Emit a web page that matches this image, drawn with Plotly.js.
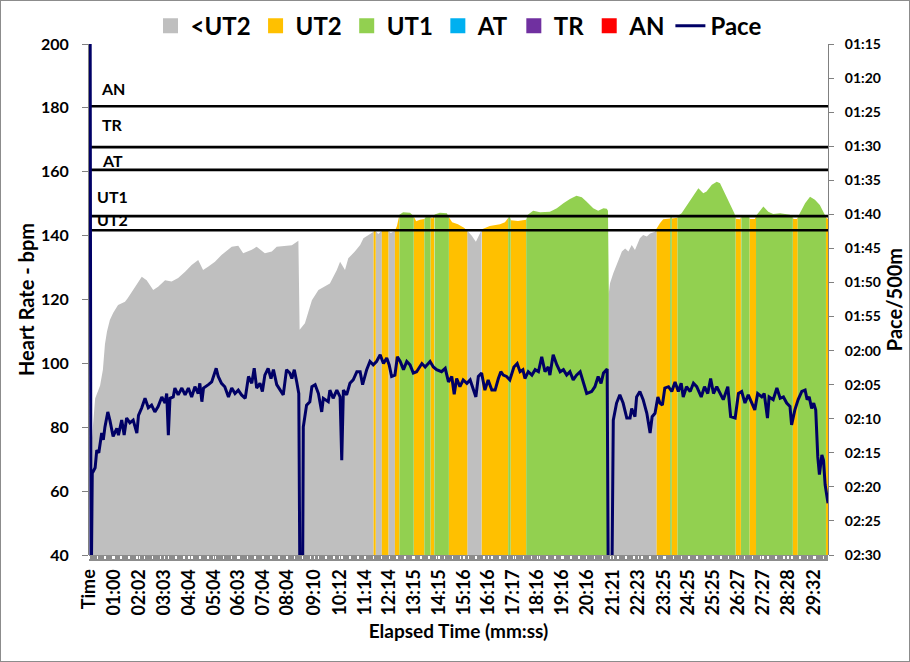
<!DOCTYPE html>
<html><head><meta charset="utf-8">
<script src="https://cdn.plot.ly/plotly-3.0.1.min.js"></script>
<style>
html,body{margin:0;padding:0;background:#fff;}
#frame{width:910px;height:662px;box-sizing:border-box;border:1px solid #8c8c8c;}
#chart{width:908px;height:660px;}
</style></head><body><div id="frame"><div id="chart"></div></div>
<script>
// ---- categories / tick labels ----
const xTickLabels = ['Time','01:00','02:02','03:03','04:04','05:04','06:03','07:04','08:04','09:10','10:12','11:14','12:14','13:15','14:15','15:16','16:16','17:17','18:16','19:16','20:16','21:21','22:23','23:25','24:25','25:25','26:27','27:27','28:28','29:32'];
const xTickSeconds = [0,60,122,183,244,304,363,424,484,550,612,674,734,795,855,916,976,1037,1096,1156,1216,1281,1343,1405,1465,1525,1587,1647,1708,1772];
const paceTickSeconds = [75,80,85,90,95,100,105,110,115,120,125,130,135,140,145,150];
const paceTickLabels = ['01:15','01:20','01:25','01:30','01:35','01:40','01:45','01:50','01:55','02:00','02:05','02:10','02:15','02:20','02:25','02:30'];

// ---- zones ----
const zoneNames = ['<UT2','UT2','UT1','AT','TR','AN'];
const zoneColors = ['#BFBFBF','#FFC000','#92D050','#00B0F0','#7030A0','#FF0000'];
const zoneStart = [0,695,700,715,731,747,758,793,819,834,843,879,924,959,1024,1030,1068,1270,1387,1420,1424,1438,1580,1593,1614,1630,1720,1732,1801];
const zoneOf = ['<UT2','UT2','<UT2','UT2','<UT2','UT2','UT1','UT2','UT1','UT2','UT1','UT2','<UT2','UT2','UT1','UT2','UT1','<UT2','UT2','UT1','UT2','UT1','UT2','UT1','UT2','UT1','UT2','UT1','UT2'];

// ---- thresholds (bpm) ----
const thresholdNames = ['AN','TR','AT','UT1','UT2'];
const thresholdBpm = [180.5,167.7,160.6,146.1,141.7];

// ---- heart rate (elapsed seconds, bpm) ----
const hrTime = [0,3,6,10,14,26,33,38,43,50,
58,70,87,94,111,128,140,156,168,185,
201,217,234,250,266,278,291,307,323,348,
364,376,397,409,429,446,458,478,495,511,
514,527,544,560,576,588,605,613,625,633,
649,662,670,682,694,698,706,715,723,730,
737,747,752,758,767,784,792,799,808,819,
825,834,838,844,857,874,880,887,901,916,
924,935,945,953,960,979,1004,1016,1024,1027,
1031,1048,1068,1072,1085,1102,1126,1143,1159,1175,
1191,1204,1216,1232,1244,1257,1265,1268,1270,1273,
1281,1289,1302,1310,1318,1326,1334,1346,1354,1363,
1371,1383,1388,1395,1403,1420,1422,1425,1437,1440,
1448,1469,1489,1501,1509,1522,1534,1542,1554,1566,
1577,1581,1591,1594,1612,1615,1627,1632,1648,1660,
1672,1689,1701,1713,1718,1722,1730,1735,1750,1762,
1774,1786,1797,1802,1806];
const hrBpm = [0,62,76,84,89,93,98,106,110,113.6,
115.8,118.3,119.3,120.5,123.6,127.1,126,123,124,126,
125.6,126.7,128.7,130.8,132.4,129.2,130.3,131.8,133.9,136.5,
136.8,134.5,135.6,136.5,134.5,135,136.5,136.8,137,138.4,
110.5,112.6,119.8,123,124,125,129.2,131.8,129.2,132.9,
135,137.1,139.2,140.2,141,141.8,140.5,141.5,142,141.5,
140.8,141.5,143,146.5,147.3,147.2,146.2,144.5,145,145.2,
146.3,146,145.3,146.6,147.2,147,145.5,144.2,143.6,142.5,
141.5,140,138.1,140.2,142,143,143.6,144.2,145.5,146.2,
144.8,144.6,145,146.5,147.8,147.3,147.5,148.6,150.1,151.5,
152.5,152,150.6,148.6,147.8,148.6,148.4,147.8,121.9,125.1,
128.2,130.8,135,136,135,137.1,135.5,139.2,140.2,139.7,
140.7,141.2,142.5,143.9,145.1,145.4,146.2,145.4,145.6,146.3,
147,151.2,154.8,153.3,153.8,155.9,156.9,156.4,153.3,150.1,
147,145.3,145.1,146.2,146.2,145.2,145.2,146.5,149.1,147.5,
146.8,147,146.8,146.5,146,145.2,145.2,146.5,150.1,152.2,
151.2,149.6,147,145.5,145.3];

// ---- pace (elapsed seconds, seconds per 500m) ----
const paceTime = [0,4,7,14,18,23,30,34,38,45,
50,58,67,71,79,85,91,99,107,116,
120,128,136,144,152,160,168,177,185,189,
193,197,205,209,217,226,234,242,250,258,
266,270,275,279,291,299,310,315,323,331,
340,348,356,364,372,381,389,397,403,409,
417,423,429,437,444,450,458,466,474,482,
490,495,501,507,512,515,521,523,531,539,
544,552,560,568,572,584,588,596,605,613,
617,621,629,637,645,654,662,668,678,686,
694,702,711,719,727,733,739,747,753,760,
768,776,784,792,800,813,821,833,841,849,
861,870,878,886,892,898,906,914,923,931,
937,945,951,959,967,975,984,992,1000,1006,
1012,1020,1028,1038,1046,1053,1060,1065,1073,1082,
1090,1098,1106,1114,1122,1126,1134,1143,1151,1159,
1167,1175,1183,1191,1200,1208,1216,1228,1236,1244,
1251,1257,1266,1269,1277,1281,1289,1297,1305,1314,
1322,1326,1334,1338,1346,1354,1363,1371,1376,1383,
1390,1395,1401,1407,1416,1424,1432,1440,1447,1452,
1460,1469,1477,1485,1496,1504,1512,1519,1526,1534,
1542,1550,1561,1568,1579,1587,1595,1603,1611,1619,
1627,1634,1644,1650,1658,1662,1672,1681,1689,1697,
1705,1713,1717,1725,1733,1742,1750,1755,1760,1766,
1771,1776,1781,1785,1791,1795,1799,1806];
const paceSec = [0,158,138,137.2,134.6,135,132.1,133.1,131.2,129,
130.2,132.6,131.4,132.4,130.2,132.4,129.9,130.6,130.2,132.1,
129.5,128.4,127,128.4,128,129,128.2,126.8,127.7,126.3,
132.4,127,126.8,125.5,126.5,125.5,126.5,125.5,126.8,125.3,
126.3,124.8,127.5,125.5,125,124.6,122.6,123.8,124.8,125.3,
126.8,125.5,126.3,125.8,126.5,127,123.8,124.8,122.6,125.5,
124.8,126,123.6,122.6,124.1,122.8,125,125.8,126.5,122.8,
123.3,124.1,122.8,124.6,126.3,158,158,131.2,128,127.5,
125.3,125,126.3,129,127,127.5,125.8,127,125.8,126.8,
136.1,125.8,126.5,124.8,124.3,123.1,123.1,125,122.8,121.6,
122.1,121.6,120.6,121.9,121.1,122.1,123.8,123.6,120.9,121.6,
122.8,121.6,122.1,123.3,123.1,121.9,122.4,121.6,122.4,122.8,
123.1,122.6,124.6,123.8,126.4,124.1,125.3,124.3,124.8,124.3,
125.5,126.8,123.8,123.3,125.8,124.3,125.8,125.8,124.1,123.1,
123.6,123.8,124.3,122.4,121.9,123.1,122.8,124.1,123.1,123.6,
122.8,123.1,120.9,123.1,122.4,123.6,120.6,122.1,123.1,122.8,
123.6,123.1,124.3,123.6,123.1,124.8,126.3,126,125.3,123.8,
124.8,123.3,122.7,158,158,130.2,127.7,126.5,127.7,129.9,
129.9,128.5,129.7,126.8,126,127.2,129.2,132.1,129.7,129.2,
126.8,127.7,128,125.5,125.3,126,124.6,126,124.8,126.8,
125.3,126,124.8,125.3,126.8,125.3,126.3,124.1,126.3,125.3,
126.3,127.2,125.3,129.7,129.9,126.3,126,127.7,126.5,127.7,
128.7,126.3,126.8,126.3,129.9,126.8,127.2,125.5,127,126.8,
127.7,128.2,130.9,128.7,127.2,126,125.8,127.2,126.8,128.5,
127.7,128.7,135.6,138.2,135.3,136.1,139.7,142.4];

// ---- build traces ----
function hrAt(t){
  for(let i=0;i<hrTime.length-1;i++){
    if(t>=hrTime[i] && t<=hrTime[i+1]){
      const f=(t-hrTime[i])/(hrTime[i+1]-hrTime[i]);
      return hrBpm[i]+f*(hrBpm[i+1]-hrBpm[i]);
    }
  }
  return hrBpm[hrBpm.length-1];
}
const tEnd = hrTime[hrTime.length-1];
const esc = s => s.replace(/</g,'&lt;');
const traces = [];
zoneNames.forEach((z,zi)=>{
  const xs=[], ys=[];
  zoneOf.forEach((name,k)=>{
    if(name!==z) return;
    const t0=zoneStart[k];
    const t1=(k+1<zoneStart.length)?zoneStart[k+1]:tEnd;
    xs.push(t0,t0); ys.push(0,hrAt(t0));
    hrTime.forEach((t,i)=>{ if(t>t0 && t<t1){ xs.push(t); ys.push(hrBpm[i]); } });
    xs.push(t1,t1); ys.push(hrAt(t1),0);
  });
  if(xs.length){
    traces.push({type:'scatter',x:xs,y:ys,mode:'lines',fill:'tozeroy',
      fillcolor:zoneColors[zi],line:{width:0,color:zoneColors[zi]},
      showlegend:false,hoverinfo:'skip'});
  }
});
const thrX=[], thrY=[];
thresholdBpm.forEach(v=>{ thrX.push(hrTime[0],tEnd,null); thrY.push(v,v,null); });
traces.push({type:'scatter',x:thrX,y:thrY,mode:'lines',line:{color:'#000',width:2.6},showlegend:false,hoverinfo:'skip'});
zoneNames.forEach((z,zi)=>{
  traces.push({type:'scatter',x:[null],y:[null],mode:'markers',name:esc(z),
    marker:{symbol:'square',size:15,color:zoneColors[zi]},showlegend:true,hoverinfo:'skip'});
});
traces.push({type:'scatter',x:paceTime,y:paceSec,yaxis:'y2',mode:'lines',name:'Pace',
  line:{color:'#000066',width:3},hoverinfo:'skip'});

const labelShift = [18,23,9,20,11];
const annotations = thresholdNames.map((n,i)=>({
  x:57, y:thresholdBpm[i], xref:'x', yref:'y', text:n, showarrow:false,
  yshift:labelShift[i], font:{size:16,weight:'bold',color:'#000'}
}));

const F = 'Lato, "Open Sans", sans-serif';
const layout = {
  width:908, height:660,
  margin:{l:88, r:81, t:43, b:106, pad:0, autoexpand:false},
  paper_bgcolor:'#fff', plot_bgcolor:'#fff',
  font:{family:F, size:16, color:'#000', weight:'bold'},
  hovermode:false,
  showlegend:true,
  legend:{orientation:'h', x:0.5, xanchor:'center', y:1.035, yanchor:'middle',
    font:{family:F, size:24, weight:'bold', color:'#000'}, traceorder:'normal',
    bgcolor:'rgba(0,0,0,0)', itemwidth:30},
  xaxis:{range:[-1,1806], tickmode:'array', tickvals:xTickSeconds, ticktext:xTickLabels,
    tickangle:-90, ticks:'outside', ticklen:3, tickwidth:1.5, tickcolor:'#fff',
    showgrid:false, zeroline:false, showline:false, automargin:false,
    tickfont:{family:F, size:18, weight:'bold', color:'#000'}, ticklabelstandoff:3,
    minor:{dtick:19.3, tick0:0, ticks:'outside', ticklen:3, tickwidth:1.5, tickcolor:'#fff', showgrid:false},
    title:{text:'Elapsed Time (mm:ss)', font:{family:F, size:19, weight:'bold', color:'#000'}, standoff:10}},
  yaxis:{range:[40,200], tickmode:'linear', tick0:40, dtick:20, ticks:'outside', ticklen:6,
    tickcolor:'#808080', showline:true, linecolor:'#808080', linewidth:1,
    showgrid:false, zeroline:false, automargin:false, ticklabelstandoff:10,
    tickfont:{family:F, size:16, weight:'bold', color:'#000'},
    title:{text:'Heart Rate - bpm', font:{family:F, size:20, weight:'bold', color:'#000'}, standoff:0}},
  yaxis2:{overlaying:'y', side:'right', range:[150,75], tickmode:'array',
    tickvals:paceTickSeconds, ticktext:paceTickLabels, ticks:'outside', ticklen:5,
    tickcolor:'#808080', showline:true, linecolor:'#808080', linewidth:1,
    showgrid:false, zeroline:false, automargin:false, ticklabelstandoff:8,
    tickfont:{family:F, size:14, weight:'bold', color:'#000'},
    title:{text:'Pace/500m', font:{family:F, size:20, weight:'bold', color:'#000'}, standoff:8}},
  shapes:[{type:'rect', xref:'paper', yref:'paper', x0:0, x1:1, y0:-6/511, y1:0,
    fillcolor:'#8c8c8c', line:{width:0}, layer:'below'}],
  annotations:annotations
};
Plotly.newPlot('chart', traces, layout, {displayModeBar:false, staticPlot:true});
</script></body></html>
